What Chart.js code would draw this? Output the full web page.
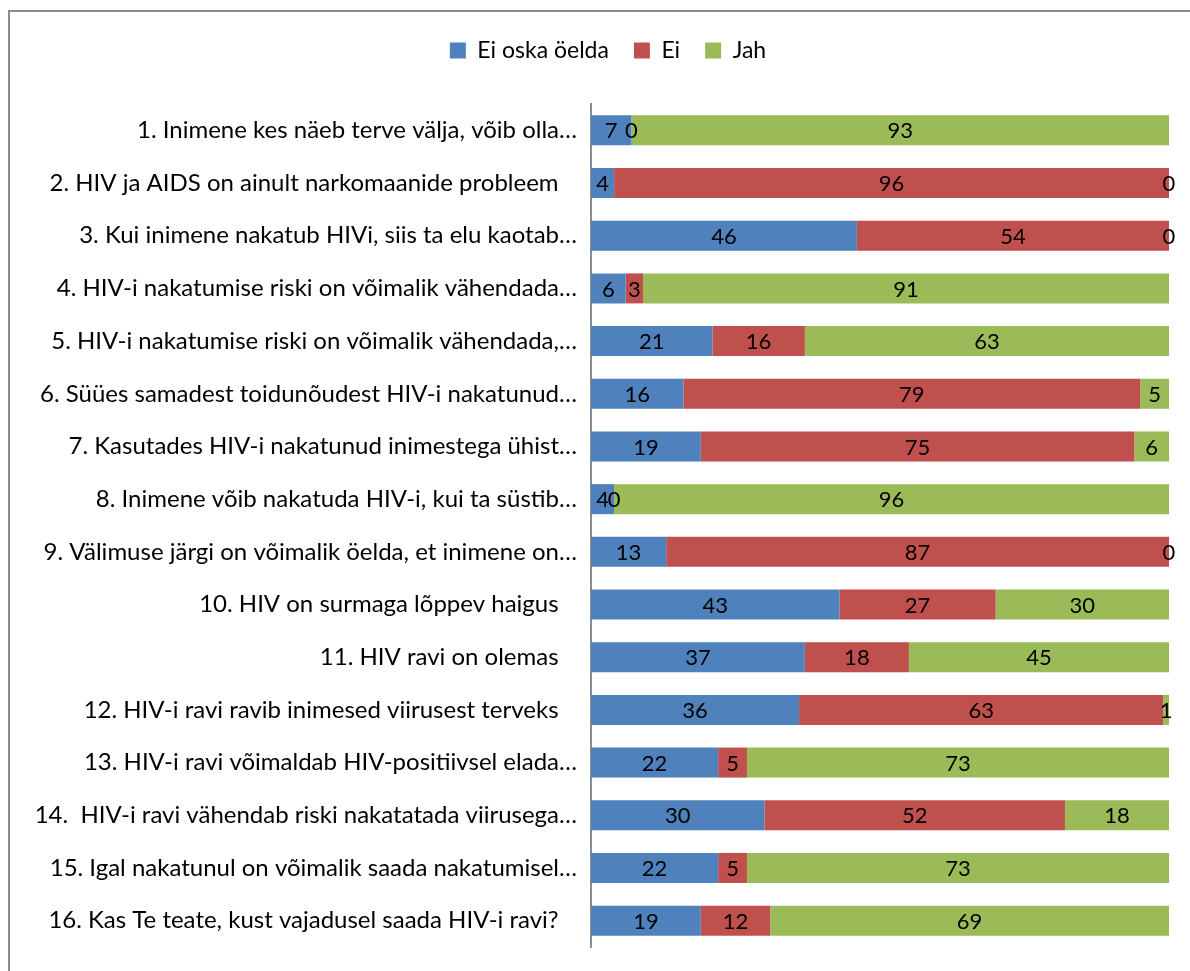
<!DOCTYPE html>
<html>
<head>
<meta charset="utf-8">
<script src="https://cdn.jsdelivr.net/npm/chart.js@4.4.1/dist/chart.umd.min.js"></script>
<style>
    html, body { margin: 0; padding: 0; background: #fff; overflow: hidden; }
    #wrap { position: relative; width: 1190px; height: 971px; }
    #frame {
        position: absolute; left: 8px; top: 10px;
        width: 1200px; height: 1000px;
        border: 2px solid #8c8c8c; box-sizing: border-box;
    }
    #chart { position: absolute; left: 0; top: 0; }
</style>
</head>
<body>
<div id="wrap">
    <div id="frame"></div>
    <canvas id="chart" width="1190" height="971"></canvas>
</div>
<script>
const questions = [
    '1. Inimene kes näeb terve välja, võib olla…',
    '2. HIV ja AIDS on ainult narkomaanide probleem',
    '3. Kui inimene nakatub HIVi, siis ta elu kaotab…',
    '4. HIV-i nakatumise riski on võimalik vähendada…',
    '5. HIV-i nakatumise riski on võimalik vähendada,…',
    '6. Süües samadest toidunõudest HIV-i nakatunud…',
    '7. Kasutades HIV-i nakatunud inimestega ühist…',
    '8. Inimene võib nakatuda HIV-i, kui ta süstib…',
    '9. Välimuse järgi on võimalik öelda, et inimene on…',
    '10. HIV on surmaga lõppev haigus',
    '11. HIV ravi on olemas',
    '12. HIV-i ravi ravib inimesed viirusest terveks',
    '13. HIV-i ravi võimaldab HIV-positiivsel elada…',
    '14.  HIV-i ravi vähendab riski nakatatada viirusega…',
    '15. Igal nakatunul on võimalik saada nakatumisel…',
    '16. Kas Te teate, kust vajadusel saada HIV-i ravi?'
];

const dontKnow = [7, 4, 46, 6, 21, 16, 19, 4, 13, 43, 37, 36, 22, 30, 22, 19];
const no = [0, 96, 54, 3, 16, 79, 75, 0, 87, 27, 18, 63, 5, 52, 5, 12];
const yes = [93, 0, 0, 91, 63, 5, 6, 96, 0, 30, 45, 1, 73, 18, 73, 69];

const FONT = 'Lato, "Open Sans", sans-serif';

// numbers in the middle of every segment, zeros included
const segmentLabels = {
    id: 'segmentLabels',
    afterDatasetsDraw(chart) {
        const ctx = chart.ctx;
        ctx.save();
        ctx.font = '22px ' + FONT;
        ctx.fillStyle = '#000';
        ctx.textAlign = 'center';
        ctx.textBaseline = 'middle';
        chart.data.datasets.forEach((ds, i) => {
            chart.getDatasetMeta(i).data.forEach((bar, j) => {
                ctx.fillText(String(ds.data[j]), (bar.x + bar.base) / 2, bar.y + 1);
            });
        });
        ctx.restore();
    }
};

// legend sits higher, with room below it, and centred over the whole frame
const legendPlacement = {
    id: 'legendPlacement',
    beforeInit(chart) {
        const fit = chart.legend.fit;
        chart.legend.fit = function () {
            fit.bind(chart.legend)();
            this.height = 90;
        };
    },
    afterLayout(chart) {
        chart.legend.left += 47;
    }
};

new Chart(document.getElementById('chart'), {
    type: 'bar',
    data: {
        labels: questions,
        datasets: [
            { label: 'Ei oska öelda', data: dontKnow, backgroundColor: '#4F81BD' },
            { label: 'Ei', data: no, backgroundColor: '#C0504D' },
            { label: 'Jah', data: yes, backgroundColor: '#9BBB59' }
        ]
    },
    options: {
        indexAxis: 'y',
        responsive: false,
        animation: false,
        layout: { padding: { top: 14, bottom: 24, left: 0, right: 21 } },
        datasets: { bar: { barPercentage: 0.57, categoryPercentage: 1 } },
        scales: {
            x: { stacked: true, min: 0, max: 100, display: false },
            y: {
                stacked: true,
                grid: { display: false },
                border: { color: '#8c8c8c', width: 2 },
                ticks: {
                    color: '#000',
                    padding: 6,
                    font: { family: FONT, size: 24 },
                    callback(value) {
                        const text = this.getLabelForValue(value);
                        return text.endsWith('…') ? text : text + '   ';
                    }
                },
                afterFit(scale) { scale.width = 591; }
            }
        },
        plugins: {
            tooltip: { enabled: false },
            legend: {
                position: 'top',
                labels: {
                    color: '#000',
                    boxWidth: 16,
                    boxHeight: 16,
                    padding: 25,
                    font: { family: FONT, size: 23 }
                }
            }
        }
    },
    plugins: [segmentLabels, legendPlacement]
});
</script>
</body>
</html>
